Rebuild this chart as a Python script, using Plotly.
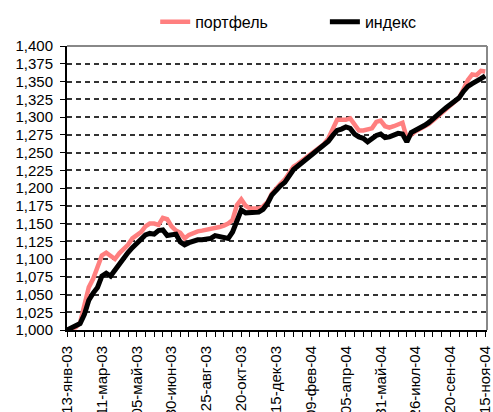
import plotly.graph_objects as go

tick_labels = ["13-янв-03", "11-мар-03", "05-май-03", "30-июн-03", "25-авг-03",
               "20-окт-03", "15-дек-03", "09-фев-04", "05-апр-04", "31-май-04",
               "26-июл-04", "20-сен-04", "15-ноя-04"]

weeks = list(range(97))

portfolio = [1000, 1002, 1004, 1010, 1035, 1060, 1072, 1088, 1105, 1109,
             1104, 1100, 1108, 1114, 1120, 1129, 1133, 1138, 1146, 1150,
             1150, 1148, 1158, 1156, 1146, 1140, 1137, 1129, 1134, 1137,
             1139, 1140, 1141, 1142, 1144, 1145, 1147, 1150, 1155, 1176,
             1184, 1175, 1171, 1171, 1171, 1174, 1180, 1192, 1200, 1206,
             1212, 1220, 1230, 1234, 1239, 1244, 1248, 1253, 1258, 1262,
             1270, 1283, 1296, 1296, 1296, 1298, 1290, 1281, 1281, 1282,
             1284, 1293, 1295, 1287, 1285, 1287, 1290, 1292, 1270, 1276,
             1280, 1283, 1286, 1290, 1295, 1300, 1305, 1311, 1316, 1321,
             1327, 1339, 1352, 1360, 1359, 1365, 1364]

index = [1000, 1003, 1006, 1009, 1022, 1042, 1052, 1060, 1076, 1080,
         1076, 1085, 1092, 1101, 1109, 1116, 1122, 1129, 1134, 1136,
         1135, 1140, 1141, 1133, 1134, 1135, 1124, 1120, 1123, 1125,
         1127, 1127, 1128, 1129, 1133, 1132, 1130, 1129, 1138, 1152,
         1169, 1165, 1165, 1165, 1166, 1170, 1178, 1190, 1197, 1203,
         1208, 1216, 1226, 1231, 1236, 1241, 1245, 1250, 1255, 1260,
         1266, 1274, 1281, 1283, 1286, 1284, 1276, 1272, 1270, 1265,
         1270, 1274, 1276, 1271, 1272, 1274, 1277, 1276, 1265, 1278,
         1281, 1284, 1288, 1292, 1298, 1303, 1308, 1313, 1318, 1322,
         1327, 1336, 1343, 1347, 1350, 1354, 1358]

FONT = "Liberation Sans, Arial, sans-serif"

fig = go.Figure()
fig.add_trace(go.Scatter(x=weeks, y=portfolio, mode="lines", name="портфель",
                         legend="legend",
                         line=dict(color="#ff7f7f", width=4.5)))
fig.add_trace(go.Scatter(x=weeks, y=index, mode="lines", name="индекс",
                         legend="legend2",
                         line=dict(color="#000000", width=5)))

legend_common = dict(orientation="h", xanchor="left", y=1.085, yanchor="middle",
                     font=dict(size=16), bgcolor="rgba(0,0,0,0)")

fig.update_layout(
    width=493, height=412,
    margin=dict(l=67, r=6, t=46, b=82, autoexpand=False),
    paper_bgcolor="white", plot_bgcolor="white",
    font=dict(family=FONT, size=15, color="black"),
    showlegend=True,
    legend=dict(x=0.21, **legend_common),
    legend2=dict(x=0.614, **legend_common),
    xaxis=dict(range=[0, 96.4], tickmode="array", tickvals=list(range(0, 97, 8)),
               ticktext=tick_labels, tickangle=-90, showgrid=False, zeroline=False,
               showline=True, linecolor="black", linewidth=2,
               ticks="outside", ticklen=5, tickcolor="black", tickwidth=1,
               minor=dict(tickmode="linear", tick0=0, dtick=2, ticks="outside",
                          ticklen=5, tickcolor="black", tickwidth=1),
               tickfont=dict(size=15), ticklabelstandoff=3,
               ticklabeloverflow="allow", automargin=False),
    yaxis=dict(range=[1000, 1400], tickmode="linear", tick0=1000, dtick=25,
               tickformat=",d", showgrid=True, gridcolor="#333333", griddash="5px,4px",
               gridwidth=1.5, zeroline=False, showline=True, linecolor="black", linewidth=2,
               ticks="outside", ticklen=5, tickcolor="black", tickwidth=1,
               ticklabelstandoff=4, tickfont=dict(size=15), automargin=False),
    shapes=[
        dict(type="line", xref="paper", yref="paper", x0=0, x1=1, y0=1, y1=1,
             line=dict(color="#888888", width=2)),
        dict(type="line", xref="paper", yref="paper", x0=1, x1=1, y0=0, y1=1,
             line=dict(color="#888888", width=2)),
    ],
)

fig.write_html("out.html", config={"displayModeBar": False},
               post_script="document.body.style.margin='0px';")
